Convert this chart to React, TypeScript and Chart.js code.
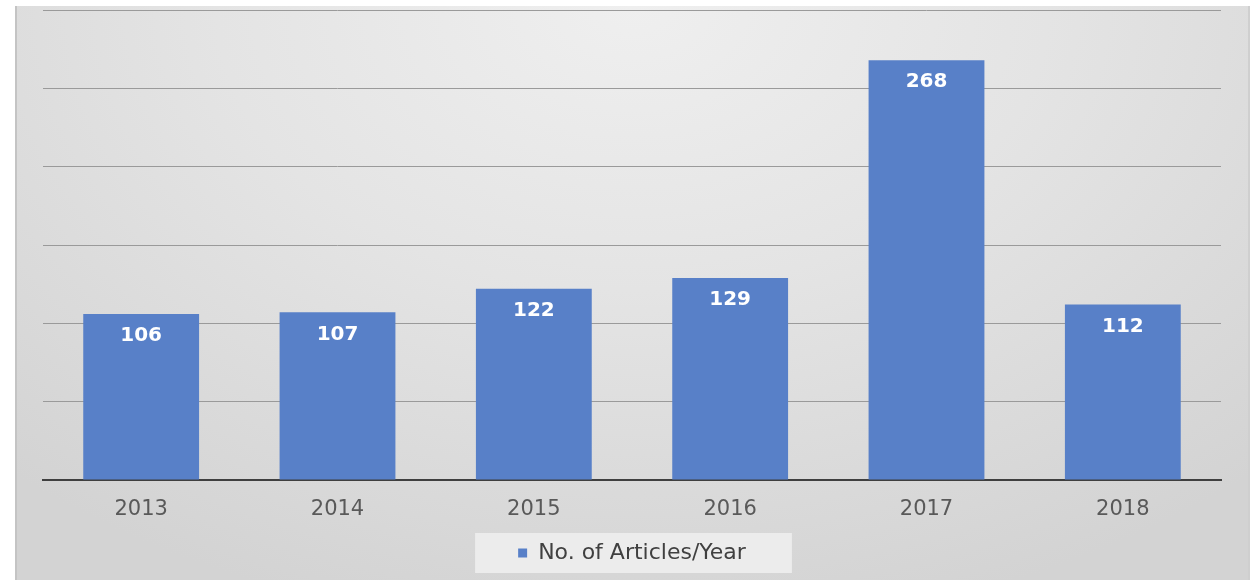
import React, { useEffect, useRef } from "react";
import { Chart, registerables } from "chart.js";

Chart.register(...registerables);

const categories: string[] = ["2013", "2014", "2015", "2016", "2017", "2018"];
const articleCounts: number[] = [106, 107, 122, 129, 268, 112];
const seriesLabel = "No. of Articles/Year";
const yMin = 0;
const yMax = 300;
const yStep = 50;

const FONT = "'DejaVu Sans', sans-serif";

const dataLabelPlugin = {
  id: "dataLabels",
  afterDatasetsDraw(chart: any) {
    const ctx = chart.ctx;
    const meta = chart.getDatasetMeta(0);
    ctx.save();
    ctx.fillStyle = "#ffffff";
    ctx.font = `bold 20px ${FONT}`;
    ctx.textAlign = "center";
    ctx.textBaseline = "middle";
    meta.data.forEach((el: any, i: number) => {
      ctx.fillText(String(chart.data.datasets[0].data[i]), el.x, el.y + 22);
    });
    ctx.restore();
  },
};

const legendBoxPlugin = {
  id: "legendBox",
  beforeDraw(chart: any) {
    const lg = chart.legend;
    if (!lg || !lg.legendHitBoxes || !lg.legendHitBoxes.length) return;
    const hb = lg.legendHitBoxes[0];
    const ctx = chart.ctx;
    const cy = hb.top + hb.height / 2;
    ctx.save();
    ctx.fillStyle = "rgba(240,240,240,0.85)";
    ctx.fillRect(hb.left - 43, cy - 20, hb.width + 89, 40);
    ctx.restore();
  },
};

export default function App() {
  const canvasRef = useRef<HTMLCanvasElement | null>(null);

  useEffect(() => {
    if (!canvasRef.current) return;
    const chart = new Chart(canvasRef.current, {
      type: "bar",
      data: {
        labels: categories,
        datasets: [
          {
            label: seriesLabel,
            data: articleCounts,
            backgroundColor: "#5880c8",
            borderWidth: 0,
            barPercentage: 0.59,
            categoryPercentage: 1,
          },
        ],
      },
      options: {
        animation: false,
        responsive: true,
        maintainAspectRatio: false,
        layout: { padding: { left: 43, right: 37, top: 10, bottom: 6 } },
        plugins: {
          tooltip: { enabled: false },
          legend: {
            position: "bottom",
            labels: {
              font: { family: FONT, size: 22 },
              color: "#404040",
              boxWidth: 9,
              boxHeight: 9,
              padding: 10,
            },
          },
        },
        scales: {
          x: {
            grid: { display: false, drawTicks: false },
            border: { display: true, color: "#3f3f3f", width: 2 },
            ticks: {
              font: { family: FONT, size: 21 },
              color: "#595959",
              padding: 17,
            },
            afterFit: (scale: any) => {
              scale.height = 52;
            },
          },
          y: {
            min: yMin,
            max: yMax,
            ticks: { display: false, stepSize: yStep },
            grid: { color: "#9a9a9a", lineWidth: 1, drawTicks: false },
            border: { display: false },
            afterFit: (scale: any) => {
              scale.width = 0;
            },
          },
        },
      },
      plugins: [dataLabelPlugin, legendBoxPlugin],
    });
    return () => chart.destroy();
  }, []);

  return (
    <div
      style={{
        position: "absolute",
        left: 0,
        top: 0,
        width: 1258,
        height: 580,
        background: "#ffffff",
      }}
    >
      <div
        style={{
          position: "absolute",
          left: 15,
          top: 6,
          width: 1235,
          height: 574,
          borderLeft: "2px solid #c4c4c4",
          borderRight: "2px solid #cfcfcf",
          boxSizing: "border-box",
          background:
            "radial-gradient(ellipse 75% 110% at 50% 0%, #efefef 0%, #e4e4e4 45%, #d3d3d3 100%)",
        }}
      />
      <div style={{ position: "absolute", left: 0, top: 0, width: 1258, height: 580 }}>
        <canvas ref={canvasRef} />
      </div>
    </div>
  );
}
